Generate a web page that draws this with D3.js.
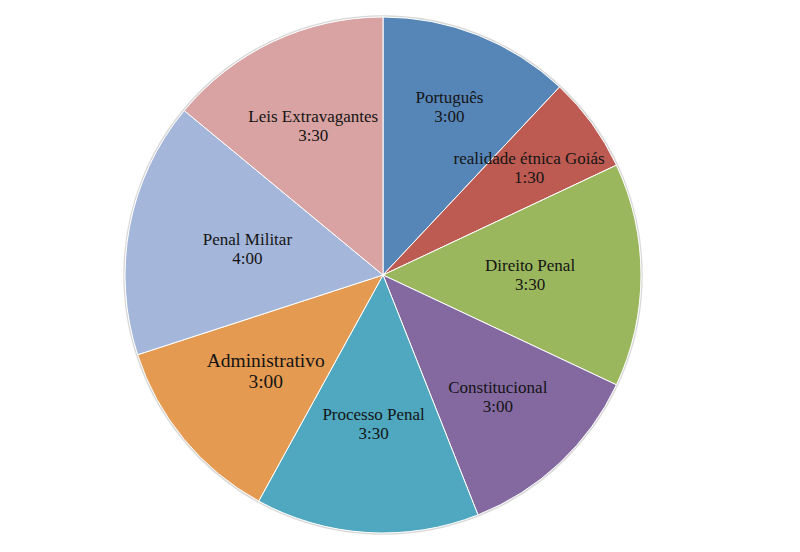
<!DOCTYPE html>
<html>
<head>
<meta charset="utf-8">
<script src="https://cdn.jsdelivr.net/npm/d3@7"></script>
<style>
    body { margin: 0; background: #fff; }
    svg { display: block; }
</style>
</head>
<body>
<svg id="pie" width="800" height="552"></svg>
<script>
"use strict";

// subjects and study time (minutes), clockwise from 12 o'clock
const subjects = ["Português", "realidade étnica Goiás", "Direito Penal", "Constitucional",
    "Processo Penal", "Administrativo", "Penal Militar", "Leis Extravagantes"];
const minutes = [180, 90, 210, 180, 210, 180, 240, 210];
const timeLabels = ["3:00", "1:30", "3:30", "3:00", "3:30", "3:00", "4:00", "3:30"];

const colors = ["#5686b8", "#bd5b52", "#9bb75d", "#8469a1", "#4fa8bf", "#e59a52", "#a4b6da", "#d8a3a2"];
// how far out each label sits, as a share of the radius
const labelPos = [0.70, 0.70, 0.57, 0.65, 0.58, 0.59, 0.535, 0.635];

const svg = d3.select("#pie");
const cx = 383, cy = 275, r = 258;

const slices = subjects.map((s, i) => ({name: s, value: minutes[i], time: timeLabels[i], i: i}));
const arcs = d3.pie().sort(null).value(d => d.value)(slices);
const arc = d3.arc().innerRadius(0).outerRadius(r);

const g = svg.append("g").attr("transform", "translate(" + cx + "," + cy + ")");

// soft outer rim
g.append("circle")
    .attr("r", r + 1)
    .style("fill", "none")
    .style("stroke", "#d8d8d8")
    .style("stroke-width", 1.5);

g.selectAll(".arc").data(arcs).enter()
    .append("path")
    .attr("class", "arc")
    .attr("d", arc)
    .style("fill", d => colors[d.data.i])
    .style("stroke", "#fff")
    .style("stroke-width", 1);

const big = d => d.data.name === "Administrativo";

const text = g.selectAll(".pieText").data(arcs).enter()
    .append("text")
    .attr("class", "pieText")
    .attr("text-anchor", "middle")
    .style("font-family", "'Liberation Serif', serif")
    .style("font-size", d => big(d) ? "19.5px" : "17px")
    .style("fill", "#141414");

text.each(function (d) {
    const lr = d3.arc().innerRadius(0).outerRadius(r * labelPos[d.data.i] * 2);
    const c = lr.centroid(d);
    const lh = big(d) ? 21 : 19;
    const t = d3.select(this);
    t.append("tspan").attr("x", c[0]).attr("y", c[1] - lh / 2 + 5).text(d.data.name);
    t.append("tspan").attr("x", c[0]).attr("y", c[1] + lh / 2 + 5).text(d.data.time);
});
</script>
</body>
</html>
